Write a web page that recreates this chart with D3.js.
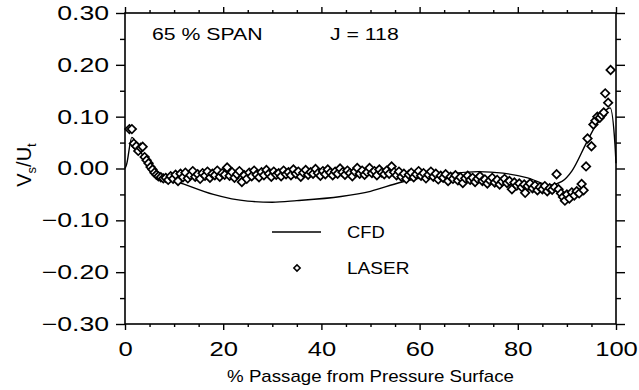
<!DOCTYPE html>
<html>
<head>
<meta charset="utf-8">
<script src="https://cdn.jsdelivr.net/npm/d3@7"></script>
<style>
  html, body { margin: 0; padding: 0; background: #fff; }
  svg { display: block; }
  text { font-family: "Liberation Sans", Arial, Helvetica, sans-serif; fill: #000; }
</style>
</head>
<body>
<svg id="chart" width="639" height="390"></svg>
<script>
// ---- data -------------------------------------------------------------
// CFD prediction: % passage vs Vs/Ut
const cfdX = [0, 0.3, 1.4, 3, 5, 8, 12, 18, 25, 30, 35, 44, 50, 56, 62, 67, 72, 77, 82, 86.6, 89, 91, 94, 96, 98.8, 99.8, 100];
const cfdY = [0.0, 0.007, 0.06, 0.035, 0.005, -0.016, -0.03, -0.05, -0.063, -0.065, -0.062, -0.054, -0.044, -0.027, -0.015, -0.009, -0.006, -0.009, -0.018, -0.032, -0.025, -0.005, 0.05, 0.085, 0.117, 0.045, 0.01];

// LASER measurements: % passage and Vs/Ut
const laserX = [0.9, 1.4, 1.8, 2.3, 2.7, 3.2, 3.6, 4.0, 4.4, 4.8, 5.2, 5.6, 6.0, 6.4, 6.8, 7.3, 7.8, 8.3, 8.8,
  9.3, 9.8, 10.3, 10.8, 11.3, 11.8, 12.3, 12.8, 13.3, 13.8, 14.3, 14.8, 15.3, 15.8, 16.3, 16.8, 17.3, 17.8, 18.3, 18.8,
  19.3, 19.8, 20.3, 20.8, 21.3, 21.8, 22.3, 22.8, 23.3, 23.8, 24.3, 24.8, 25.3, 25.8, 26.3, 26.8, 27.3, 27.8, 28.3, 28.8,
  29.3, 29.8, 30.3, 30.8, 31.3, 31.8, 32.3, 32.8, 33.3, 33.8, 34.3, 34.8, 35.3, 35.8, 36.3, 36.8, 37.3, 37.8, 38.3, 38.8,
  39.3, 39.8, 40.3, 40.8, 41.3, 41.8, 42.3, 42.8, 43.3, 43.8, 44.3, 44.8, 45.3, 45.8, 46.3, 46.8, 47.3, 47.8, 48.3, 48.8,
  49.3, 49.8, 50.3, 50.8, 51.3, 51.8, 52.3, 52.8, 53.3, 53.8, 54.3, 54.8, 55.3, 55.8, 56.3, 56.8, 57.3, 57.8, 58.3, 58.8,
  59.3, 59.8, 60.3, 60.8, 61.3, 61.8, 62.3, 62.8, 63.3, 63.8, 64.3, 64.8, 65.3, 65.8, 66.3, 66.8, 67.3, 67.8, 68.3, 68.8,
  69.3, 69.8, 70.3, 70.8, 71.3, 71.8, 72.3, 72.8, 73.3, 73.8, 74.3, 74.8, 75.3, 75.8, 76.3, 76.8, 77.3, 77.8, 78.3, 78.8,
  79.3, 79.8, 80.3, 80.8, 81.3, 81.5, 82.0, 82.5, 83.0, 83.5, 84.0, 84.5, 85.0, 85.5, 86.0, 86.5, 87.0, 87.5, 87.9, 88.3,
  88.8, 89.2, 89.6, 90.0, 90.5, 91.0, 91.5, 92.0, 92.5, 93.0, 93.4, 93.9, 94.2, 95.0, 95.4, 95.8, 96.2, 96.7, 97.1, 97.5,
  97.8, 98.4, 98.9];
const laserY = [0.076, 0.076, 0.048, 0.043, 0.034, 0.040, 0.042, 0.022, 0.016, 0.010, 0.003, -0.002, -0.008, -0.012, -0.015, -0.017, -0.019, -0.018, -0.022,
  -0.015, -0.020, -0.012, -0.024, -0.010, -0.017, -0.008, -0.019, -0.013, -0.005, -0.016, -0.011, -0.020, -0.009, -0.014, -0.006, -0.018, -0.010, -0.013, -0.004,
  -0.016, -0.009, -0.012, 0.002, -0.014, -0.007, -0.018, -0.011, -0.005, -0.026, -0.013, -0.020, -0.008, -0.015, -0.004, -0.012, -0.017, -0.007, -0.013, -0.003,
  -0.010, -0.016, -0.006, -0.012, -0.009, -0.015, -0.004, -0.011, -0.007, -0.013, -0.002, -0.010, -0.006, -0.016, -0.008, -0.003, -0.012, -0.007, -0.010, -0.001,
  -0.009, -0.014, -0.005, -0.011, -0.002, -0.008, -0.013, -0.006, -0.010, 0.000, -0.007, -0.012, -0.004, -0.009, -0.015, -0.006, 0.001, -0.010, -0.004, -0.012,
  -0.007, 0.001, -0.009, -0.005, -0.013, -0.002, -0.008, -0.011, -0.004, -0.010, 0.004, -0.007, -0.013, -0.006, -0.016, -0.010, -0.020, -0.012, -0.008, -0.017,
  -0.011, -0.005, -0.014, -0.009, -0.019, -0.012, -0.006, -0.016, -0.010, -0.021, -0.014, -0.018, -0.011, -0.024, -0.016, -0.020, -0.013, -0.023, -0.017, -0.028,
  -0.019, -0.014, -0.022, -0.018, -0.026, -0.020, -0.015, -0.024, -0.021, -0.029, -0.023, -0.018, -0.027, -0.022, -0.031, -0.025, -0.020, -0.028, -0.024, -0.040,
  -0.027, -0.033, -0.029, -0.036, -0.031, -0.047, -0.034, -0.029, -0.038, -0.033, -0.042, -0.036, -0.040, -0.034, -0.044, -0.038, -0.041, -0.036, -0.011, -0.040,
  -0.048, -0.055, -0.062, -0.050, -0.058, -0.046, -0.052, -0.044, -0.048, -0.030, -0.042, 0.004, 0.058, 0.043, 0.085, 0.092, 0.100, 0.098, 0.103, 0.108,
  0.145, 0.127, 0.190];

const xMajor = [0, 20, 40, 60, 80, 100];
const xMinor = [5, 10, 15, 25, 30, 35, 45, 50, 55, 65, 70, 75, 85, 90, 95];
const yMajor = [-0.30, -0.20, -0.10, 0.00, 0.10, 0.20, 0.30];
const yMinor = [-0.25, -0.15, -0.05, 0.05, 0.15, 0.25];

const spanLabel = "65 % SPAN";
const jLabel = "J = 118";
const xTitle = "% Passage from Pressure Surface";
const legendItems = ["CFD", "LASER"];

// ---- layout -----------------------------------------------------------
const svg = d3.select("#chart");
const plotL = 125, plotR = 616, plotT = 13, plotB = 324;
const x = d3.scaleLinear().domain([0, 100]).range([plotL, plotR]);
const y = d3.scaleLinear().domain([-0.3, 0.3]).range([plotB, plotT]);

// widen glyphs of a text selection by a factor
function stretch(sel, f) {
  sel.each(function () {
    const w = this.getComputedTextLength();
    d3.select(this).attr("textLength", w * f).attr("lengthAdjust", "spacingAndGlyphs");
  });
}
const fmt = v => (v < 0 ? "\u2212" : "") + Math.abs(v).toFixed(2);

// ---- axes -------------------------------------------------------------
function styleAxis(g) {
  g.select(".domain").remove();
  g.selectAll(".tick line").attr("stroke", "#000").attr("stroke-width", 1.4);
}
// bottom
svg.append("g").attr("transform", `translate(0,${plotB})`)
  .call(d3.axisBottom(x).tickValues(xMajor).tickSize(6).tickPadding(12).tickFormat(d3.format("d")))
  .call(styleAxis)
  .call(g => g.selectAll("text").attr("font-size", 20).attr("fill", "#000").call(stretch, 1.28));
svg.append("g").attr("transform", `translate(0,${plotB})`)
  .call(d3.axisBottom(x).tickValues(xMinor).tickSize(3).tickFormat(""))
  .call(styleAxis);
// top
svg.append("g").attr("transform", `translate(0,${plotT})`)
  .call(d3.axisTop(x).tickValues(xMajor).tickSize(6).tickFormat(""))
  .call(styleAxis);
svg.append("g").attr("transform", `translate(0,${plotT})`)
  .call(d3.axisTop(x).tickValues(xMinor).tickSize(3).tickFormat(""))
  .call(styleAxis);
// left
svg.append("g").attr("transform", `translate(${plotL},0)`)
  .call(d3.axisLeft(y).tickValues(yMajor).tickSize(9).tickPadding(7).tickFormat(fmt))
  .call(styleAxis)
  .call(g => g.selectAll("text").attr("font-size", 20).attr("fill", "#000").call(stretch, 1.33));
svg.append("g").attr("transform", `translate(${plotL},0)`)
  .call(d3.axisLeft(y).tickValues(yMinor).tickSize(5).tickFormat(""))
  .call(styleAxis);
// right
svg.append("g").attr("transform", `translate(${plotR},0)`)
  .call(d3.axisRight(y).tickValues(yMajor).tickSize(9).tickFormat(""))
  .call(styleAxis);
svg.append("g").attr("transform", `translate(${plotR},0)`)
  .call(d3.axisRight(y).tickValues(yMinor).tickSize(5).tickFormat(""))
  .call(styleAxis);

// frame
svg.append("rect")
  .attr("x", plotL).attr("y", plotT).attr("width", plotR - plotL).attr("height", plotB - plotT)
  .attr("fill", "none").attr("stroke", "#000").attr("stroke-width", 1.6);

// ---- CFD line ---------------------------------------------------------
const cfd = cfdX.map((v, i) => [v, cfdY[i]]);
svg.append("path")
  .datum(cfd)
  .attr("fill", "none").attr("stroke", "#000").attr("stroke-width", 1.4)
  .attr("d", d3.line().x(d => x(d[0])).y(d => y(d[1])).curve(d3.curveMonotoneX));

// ---- LASER points -----------------------------------------------------
const laser = laserX.map((v, i) => [v, laserY[i]]);
const diamond = d3.symbol(d3.symbolSquare, 36);
svg.append("g").selectAll("path")
  .data(laser)
  .join("path")
  .attr("d", diamond)
  .attr("transform", d => `translate(${x(d[0])},${y(d[1])}) rotate(45)`)
  .attr("fill", "#fff").attr("stroke", "#000").attr("stroke-width", 1.7);

// ---- annotations ------------------------------------------------------
svg.append("text").attr("x", 152).attr("y", 40).attr("font-size", 17)
  .text(spanLabel).call(stretch, 1.25);
svg.append("text").attr("x", 330).attr("y", 40).attr("font-size", 17)
  .text(jLabel).call(stretch, 1.25);

// ---- legend -----------------------------------------------------------
svg.append("line").attr("x1", 272).attr("x2", 321).attr("y1", 232).attr("y2", 232)
  .attr("stroke", "#000").attr("stroke-width", 1.4);
svg.append("path").attr("d", d3.symbol(d3.symbolSquare, 20))
  .attr("transform", "translate(297,268) rotate(45)")
  .attr("fill", "#fff").attr("stroke", "#000").attr("stroke-width", 1.5);
svg.append("text").attr("x", 347).attr("y", 238).attr("font-size", 17)
  .text(legendItems[0]).call(stretch, 1.08);
svg.append("text").attr("x", 347).attr("y", 274).attr("font-size", 17)
  .text(legendItems[1]).call(stretch, 1.12);

// ---- axis titles ------------------------------------------------------
svg.append("text").attr("x", (plotL + plotR) / 2).attr("y", 382)
  .attr("text-anchor", "middle").attr("font-size", 17)
  .text(xTitle).call(stretch, 1.1);

const yt = svg.append("text")
  .attr("transform", `translate(31,165) rotate(-90)`)
  .attr("text-anchor", "middle").attr("font-size", 20);
yt.append("tspan").text("V");
yt.append("tspan").attr("font-size", 13).attr("dy", 5).text("s");
yt.append("tspan").attr("dy", -5).text("/U");
yt.append("tspan").attr("font-size", 13).attr("dy", 5).text("t");
</script>
</body>
</html>
